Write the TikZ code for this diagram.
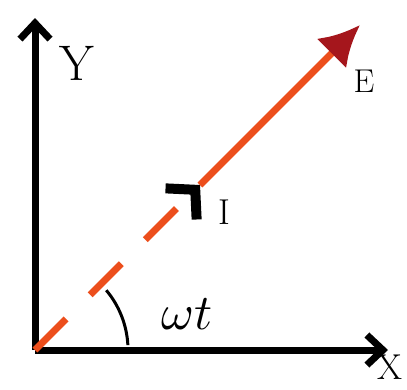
\documentclass[tikz,border=0pt]{standalone}
\usepackage{tikz}
\usetikzlibrary{arrows.meta}
\definecolor{phasor}{RGB}{236,78,28}
\definecolor{tipred}{RGB}{165,22,28}

\begin{document}
\begin{tikzpicture}[x=1pt,y=-1pt]
\useasboundingbox (0,0) rectangle (407,389);
\coordinate (O) at (35,350);
\coordinate (Ytip) at (35,18);
\coordinate (Xtip) at (388,350);
\coordinate (Itip) at (200,185);
\coordinate (Etip) at (360,25);

\draw[-{Straight Barb[length=16pt,width=30pt]},line width = 7pt] (O) -- (Ytip);
\draw[-{Straight Barb[length=16pt,width=30pt]},line width = 7pt] (O) -- (Xtip);
\draw[phasor,line width = 7pt,dash pattern=on 44pt off 34pt,-{Straight Barb[black,length=20pt,width=44pt,line width=10pt]}] (O) -- (Itip);
\draw[phasor,line width = 7pt,-{Latex[tipred,length=40pt,width=42pt]}] (Itip) -- (Etip);
\draw[line width = 3pt] (O) ++(-3:93) arc[start angle=-3,end angle=-40,radius=93];

\node[font=\fontsize{50}{54}\selectfont] (Ylab) at (77,63) {Y};
\node[font=\fontsize{36}{40}\selectfont] (Xlab) at (390,367) {X};
\node[font=\fontsize{33}{36}\selectfont] (Elab) at (364,81) {E};
\node[font=\fontsize{36}{40}\selectfont] (Ilab) at (224,212) {I};
\node (wtlab) at (187,314) {\scalebox{5}{$\omega t$}};
\end{tikzpicture}
\end{document}
